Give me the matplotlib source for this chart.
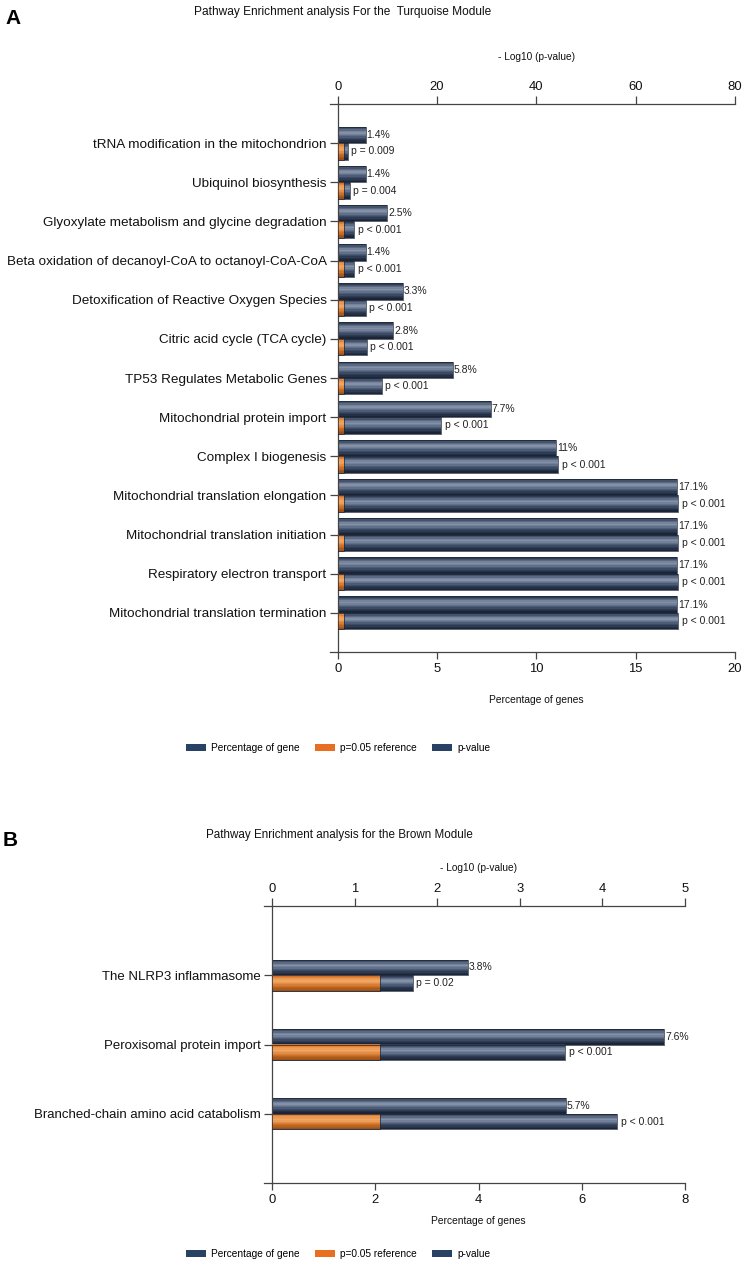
import numpy as np
import matplotlib
matplotlib.use('Agg')
import matplotlib.pyplot as plt
from matplotlib.colors import LinearSegmentedColormap
from matplotlib.patches import Patch

plt.rcParams['font.family'] = ['Liberation Sans', 'DejaVu Sans']

# ---- data: panel A (turquoise module) ----
a_terms = ['tRNA modification in the mitochondrion',
           'Ubiquinol biosynthesis',
           'Glyoxylate metabolism and glycine degradation',
           'Beta oxidation of decanoyl-CoA to octanoyl-CoA-CoA',
           'Detoxification of Reactive Oxygen Species',
           'Citric acid cycle (TCA cycle)',
           'TP53 Regulates Metabolic Genes',
           'Mitochondrial protein import',
           'Complex I biogenesis',
           'Mitochondrial translation elongation',
           'Mitochondrial translation initiation',
           'Respiratory electron transport',
           'Mitochondrial translation termination']
a_pct = [1.4, 1.4, 2.5, 1.4, 3.3, 2.8, 5.8, 7.7, 11, 17.1, 17.1, 17.1, 17.1]
a_logp = [2.05, 2.4, 3.3, 3.3, 5.6, 5.9, 8.9, 20.9, 44.4, 68.6, 68.6, 68.6, 68.6]
a_plab = ['p = 0.009', 'p = 0.004'] + ['p < 0.001'] * 11

# ---- data: panel B (brown module) ----
b_terms = ['The NLRP3 inflammasome',
           'Peroxisomal protein import',
           'Branched-chain amino acid catabolism']
b_pct = [3.8, 7.6, 5.7]
b_logp = [1.70, 3.55, 4.18]
b_plab = ['p = 0.02', 'p < 0.001', 'p < 0.001']

ref_logp = -np.log10(0.05)

navy = ['#2e3c54', '#56667f', '#8995aa', '#6a7a93', '#45556f', '#2c3a50', '#1b2537']
orange = ['#d47128', '#ec9a52', '#f0a866', '#dd8238', '#c0661f', '#9c5018']

W, H = 747, 1264
fig = plt.figure(figsize=(W / 100, H / 100), dpi=100)


def px(x, y):
    return x / W, 1 - y / H


def grad_barh(ax, y, w, h, colors, n=12):
    cmap = LinearSegmentedColormap.from_list('g', colors)
    y = np.asarray(y, dtype=float)
    for i in range(n):
        ax.barh(y - h / 2 + (i + 0.5) * h / n, w, height=h / n * 1.05,
                color=cmap(i / (n - 1)), linewidth=0)
    ax.barh(y, w, height=h, fill=False, edgecolor='#1e2838', linewidth=0.5)


def panel(rect, terms, pct, logp, plab, xmax_pct, xmax_p, pct_ticks, p_ticks, bh, lab_fs):
    ax = fig.add_axes(rect)
    ax2 = ax.twiny()
    n = len(terms)
    ypos = np.arange(n)
    ax.set_ylim(n, -1)
    ax.set_xlim(0, xmax_pct)
    ax2.set_xlim(0, xmax_p)

    grad_barh(ax, ypos - bh / 2, pct, bh, navy)
    grad_barh(ax2, ypos + bh / 2, logp, bh, navy)
    grad_barh(ax2, ypos + bh / 2, [ref_logp] * n, bh, orange)

    for yy, v in zip(ypos, pct):
        ax.annotate(f'{v:g}%', (v, yy - bh / 2), xytext=(0.5, 0), textcoords='offset points',
                    ha='left', va='center', fontsize=7.5, color='#222222')
    for yy, v, s in zip(ypos, logp, plab):
        ax2.annotate(s, (v, yy + bh / 2), xytext=(2.5, 0), textcoords='offset points',
                     ha='left', va='center', fontsize=7.5, color='#222222')

    ax.set_yticks(ypos)
    ax.set_yticklabels(terms, fontsize=lab_fs, color='#111111')
    ax.set_xticks(pct_ticks)
    ax2.set_xticks(p_ticks)
    for a in (ax, ax2):
        for s in a.spines.values():
            s.set_color('#444444')
            s.set_linewidth(0.9)
        a.spines['right'].set_visible(False)
        a.tick_params(colors='#444444', labelcolor='#111111', width=0.9)
    ax.spines['top'].set_visible(False)
    ax2.spines['bottom'].set_visible(False)
    ax2.spines['left'].set_visible(False)
    ax.tick_params(axis='y', length=6, pad=2)
    ax.tick_params(axis='x', length=5, pad=3, labelsize=9.4)
    ax2.tick_params(axis='x', length=5.5, pad=2.5, labelsize=9.4)
    # axis lines reach a little left of the vertical axis
    for yv in (0, 1):
        ax.plot([-0.02, 0], [yv, yv], transform=ax.transAxes, color='#444444',
                lw=0.9, clip_on=False)
    return ax, ax2


def legend(y):
    handles = [Patch(facecolor='#284265', label='Percentage of gene'),
               Patch(facecolor='#e86f22', label='p=0.05 reference'),
               Patch(facecolor='#284265', label='p-value')]
    fig.legend(handles=handles, loc='center', bbox_to_anchor=px(338, y), ncol=3,
               frameon=False, fontsize=7.3, handlelength=2.0, handleheight=0.8,
               handletextpad=0.5, columnspacing=1.5)


# ---- panel A ----
panel([337.7 / W, 1 - 652 / H, (735 - 337.7) / W, (652 - 104) / H],
      a_terms, a_pct, a_logp, a_plab, 20, 80, [0, 5, 10, 15, 20], [0, 20, 40, 60, 80],
      0.42, 9.7)
fig.text(*px(13, 18), 'A', fontsize=15, fontweight='bold', ha='center', va='center')
fig.text(*px(343, 12), 'Pathway Enrichment analysis For the  Turquoise Module',
         fontsize=8.6, ha='center', va='center', color='#111111')
fig.text(*px(536, 57), '- Log10 (p-value)', fontsize=7.3, ha='center', va='center', color='#111111')
fig.text(*px(536, 700), 'Percentage of genes', fontsize=7.4, ha='center', va='center', color='#111111')
legend(748)

# ---- panel B ----
panel([272.3 / W, 1 - 1183 / H, (685 - 272.3) / W, (1183 - 906) / H],
      b_terms, b_pct, b_logp, b_plab, 8, 5, [0, 2, 4, 6, 8], [0, 1, 2, 3, 4, 5],
      0.225, 9.5)
fig.text(*px(10, 840), 'B', fontsize=15, fontweight='bold', ha='center', va='center')
fig.text(*px(339, 835), 'Pathway Enrichment analysis for the Brown Module',
         fontsize=8.4, ha='center', va='center', color='#111111')
fig.text(*px(478, 868), '- Log10 (p-value)', fontsize=7.3, ha='center', va='center', color='#111111')
fig.text(*px(478, 1221), 'Percentage of genes', fontsize=7.4, ha='center', va='center', color='#111111')
legend(1254)

fig.savefig('out.png', dpi=100)
